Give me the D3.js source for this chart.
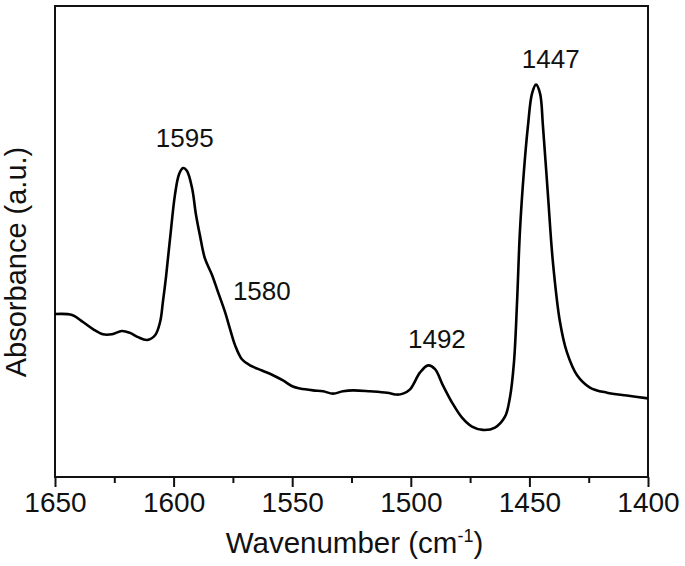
<!DOCTYPE html>
<html>
<head>
<meta charset="utf-8">
<script src="https://cdn.jsdelivr.net/npm/d3@7"></script>
<style>
  html, body { margin: 0; padding: 0; background: #fff; }
  text { font-family: "Liberation Sans", Arial, sans-serif; fill: #111; }
</style>
</head>
<body>
<div id="chart"></div>
<script>
// wavenumber (cm-1)
const wavenumbers = [
  1650.0, 1642.8, 1638.2, 1634.0, 1629.8, 1626.0, 1621.8, 1618.4, 1615.0, 1611.2,
  1607.8, 1605.7, 1604.5, 1603.2, 1601.5, 1599.4, 1597.7, 1596.0, 1594.4, 1592.2,
  1590.6, 1588.9, 1586.8, 1583.8, 1581.3, 1578.3, 1576.2, 1574.1, 1571.2, 1567.8,
  1562.7, 1558.1, 1553.9, 1549.7, 1546.7, 1541.2, 1537.0, 1532.8, 1528.6, 1524.4,
  1517.2, 1510.0, 1505.8, 1503.3, 1500.3, 1496.1, 1492.7, 1489.8, 1486.4, 1482.6,
  1478.4, 1474.2, 1469.6, 1464.5, 1460.3, 1458.2, 1456.5, 1455.2, 1454.0, 1452.3,
  1450.6, 1448.9, 1447.2, 1445.5, 1444.3, 1442.2, 1440.1, 1437.1, 1434.2, 1429.9,
  1424.5, 1417.3, 1408.9, 1400.0
];
// absorbance (arbitrary units)
const absorbance = [
  0.346, 0.344, 0.329, 0.314, 0.303, 0.303, 0.310, 0.306, 0.297, 0.291,
  0.301, 0.329, 0.372, 0.425, 0.506, 0.600, 0.643, 0.656, 0.650, 0.613,
  0.558, 0.513, 0.464, 0.429, 0.393, 0.350, 0.314, 0.280, 0.250, 0.237,
  0.226, 0.216, 0.205, 0.192, 0.188, 0.184, 0.182, 0.177, 0.182, 0.184,
  0.182, 0.179, 0.175, 0.177, 0.186, 0.222, 0.237, 0.229, 0.194, 0.158,
  0.126, 0.107, 0.100, 0.105, 0.128, 0.169, 0.244, 0.372, 0.521, 0.650,
  0.746, 0.814, 0.833, 0.814, 0.746, 0.600, 0.457, 0.329, 0.265, 0.216,
  0.190, 0.179, 0.173, 0.167
];
const majorTicks = [1650, 1600, 1550, 1500, 1450, 1400];
const minorTicks = [1625, 1575, 1525, 1475, 1425];
// peak annotations: label, position (wavenumber, absorbance) of the text anchor
const peakLabels = ["1595", "1580", "1492", "1447"];
const peakWn = [1595.3, 1575.0, 1489.0, 1441.0];
const peakAbs = [0.701, 0.376, 0.273, 0.869];
const peakAnchor = ["middle", "start", "middle", "middle"];

const width = 685, height = 566;
const margin = { top: 6, right: 37, bottom: 89, left: 55 };
const innerW = width - margin.left - margin.right;
const innerH = height - margin.top - margin.bottom;

const svg = d3.select("#chart").append("svg")
  .attr("width", width)
  .attr("height", height);

const g = svg.append("g").attr("transform", `translate(${margin.left},${margin.top})`);

const x = d3.scaleLinear().domain([1650, 1400]).range([0, innerW]);
const y = d3.scaleLinear().domain([0, 1]).range([innerH, 0]);

// frame
g.append("rect")
  .attr("width", innerW)
  .attr("height", innerH)
  .attr("fill", "none")
  .attr("stroke", "#111")
  .attr("stroke-width", 2);

// bottom axis, major ticks with labels
const xAxis = g.append("g")
  .attr("transform", `translate(0,${innerH})`)
  .call(d3.axisBottom(x).tickValues(majorTicks).tickSize(10).tickPadding(5).tickFormat(d3.format("d")));
xAxis.select(".domain").remove();
xAxis.selectAll(".tick line").attr("stroke", "#111").attr("stroke-width", 2);
xAxis.selectAll(".tick text")
  .attr("font-family", "Liberation Sans, Arial, sans-serif")
  .attr("font-size", 28)
  .attr("fill", "#111");

// minor ticks
const xMinor = g.append("g")
  .attr("transform", `translate(0,${innerH})`)
  .call(d3.axisBottom(x).tickValues(minorTicks).tickSize(6).tickFormat(""));
xMinor.select(".domain").remove();
xMinor.selectAll(".tick line").attr("stroke", "#111").attr("stroke-width", 2);

// spectrum
const points = wavenumbers.map((w, i) => [w, absorbance[i]]);
const line = d3.line()
  .x(d => x(d[0]))
  .y(d => y(d[1]))
  .curve(d3.curveCatmullRom.alpha(0.5));

g.append("path")
  .datum(points)
  .attr("fill", "none")
  .attr("stroke", "#000")
  .attr("stroke-width", 2.6)
  .attr("stroke-linejoin", "round")
  .attr("d", line);

// peak labels
peakLabels.forEach((lab, i) => {
  g.append("text")
    .attr("x", x(peakWn[i]))
    .attr("y", y(peakAbs[i]))
    .attr("text-anchor", peakAnchor[i])
    .attr("font-size", 26)
    .text(lab);
});

// axis titles
const xTitle = svg.append("text")
  .attr("x", margin.left + innerW / 2 + 3)
  .attr("y", 553)
  .attr("text-anchor", "middle")
  .attr("font-size", 29.5);
xTitle.append("tspan").text("Wavenumber (cm");
xTitle.append("tspan").attr("font-size", 18).attr("dy", -11).text("-1");
xTitle.append("tspan").attr("dy", 11).text(")");

svg.append("text")
  .attr("transform", `translate(26,${262}) rotate(-90)`)
  .attr("text-anchor", "middle")
  .attr("font-size", 29)
  .text("Absorbance (a.u.)");
</script>
</body>
</html>
